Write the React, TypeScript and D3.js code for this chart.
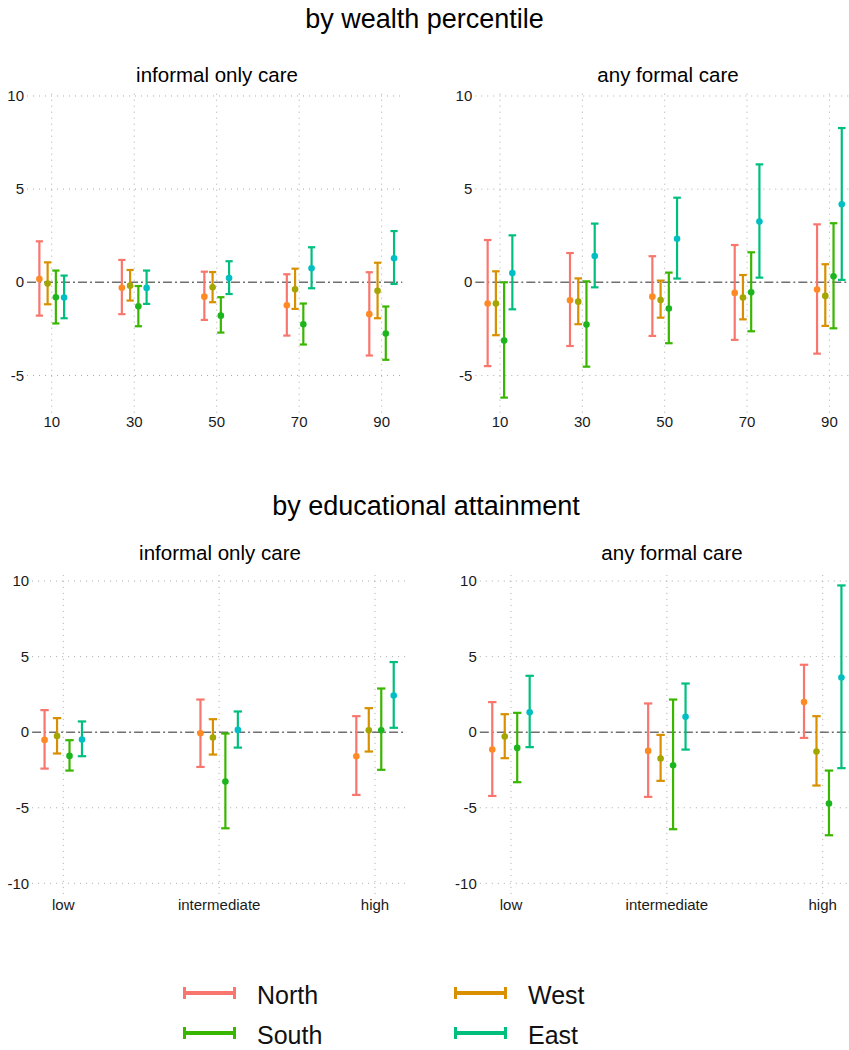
import { useEffect, useRef } from 'react';
import * as d3 from 'd3';

// regions, in dodge order
const regions = ['North', 'West', 'South', 'East'];
const barColors = ['#F8766D', '#D89000', '#39B600', '#00BF7D'];
const pointColors = ['#FF8A24', '#A3A500', '#1DB51D', '#00BFC4'];

const wealthGroups = [10, 30, 50, 70, 90];
const eduGroups = ['low', 'intermediate', 'high'];

// [estimate, lower, upper] per group
const wealthInfNorth = [[0.18, -1.79, 2.2], [-0.29, -1.71, 1.2], [-0.77, -2.02, 0.57], [-1.23, -2.86, 0.43], [-1.71, -3.93, 0.54]];
const wealthInfWest = [[-0.07, -1.18, 1.07], [-0.18, -0.98, 0.66], [-0.27, -1.07, 0.55], [-0.38, -1.43, 0.73], [-0.46, -1.93, 1.05]];
const wealthInfSouth = [[-0.8, -2.21, 0.63], [-1.29, -2.36, -0.2], [-1.79, -2.7, -0.8], [-2.25, -3.34, -1.14], [-2.75, -4.16, -1.3]];
const wealthInfEast = [[-0.82, -1.93, 0.36], [-0.3, -1.16, 0.63], [0.23, -0.63, 1.13], [0.75, -0.32, 1.88], [1.29, -0.09, 2.75]];

const wealthFormNorth = [[-1.14, -4.5, 2.27], [-0.97, -3.42, 1.57], [-0.77, -2.88, 1.4], [-0.57, -3.09, 2.0], [-0.39, -3.83, 3.11]];
const wealthFormWest = [[-1.14, -2.84, 0.59], [-1.04, -2.25, 0.21], [-0.95, -1.9, 0.09], [-0.82, -1.99, 0.39], [-0.73, -2.34, 0.97]];
const wealthFormSouth = [[-3.13, -6.19, 0.0], [-2.27, -4.53, 0.05], [-1.41, -3.27, 0.52], [-0.54, -2.63, 1.61], [0.32, -2.47, 3.17]];
const wealthFormEast = [[0.5, -1.45, 2.52], [1.41, -0.27, 3.15], [2.34, 0.2, 4.54], [3.26, 0.25, 6.33], [4.19, 0.13, 8.28]];

const eduInfNorth = [[-0.51, -2.41, 1.46], [-0.07, -2.3, 2.16], [-1.59, -4.15, 1.06]];
const eduInfWest = [[-0.26, -1.41, 0.93], [-0.35, -1.48, 0.86], [0.13, -1.28, 1.59]];
const eduInfSouth = [[-1.57, -2.54, -0.53], [-3.27, -6.36, -0.09], [0.13, -2.49, 2.89]];
const eduInfEast = [[-0.49, -1.59, 0.71], [0.15, -1.02, 1.37], [2.43, 0.29, 4.64]];

const eduFormNorth = [[-1.15, -4.22, 1.99], [-1.24, -4.28, 1.9], [1.99, -0.38, 4.46]];
const eduFormWest = [[-0.29, -1.72, 1.19], [-1.74, -3.22, -0.18], [-1.28, -3.53, 1.06]];
const eduFormSouth = [[-1.04, -3.31, 1.28], [-2.19, -6.42, 2.16], [-4.72, -6.82, -2.54]];
const eduFormEast = [[1.32, -0.99, 3.73], [1.02, -1.15, 3.22], [3.62, -2.38, 9.71]];

const wealthTicks = [-5, 0, 5, 10];
const eduTicks = [-10, -5, 0, 5, 10];

const font = '"Liberation Sans", Arial, Helvetica, sans-serif';

const App = () => {
  const ref = useRef(null);

  useEffect(() => {
    const svg = d3.select(ref.current);
    svg.selectAll('*').remove();

    const panels = [
      { title: 'informal only care', tx: 217, ty: 82, series: [wealthInfNorth, wealthInfWest, wealthInfSouth, wealthInfEast],
        cats: wealthGroups, xr: [27, 402.3], yr: [412.7, 90.4], yd: [-7, 10.3], ticks: wealthTicks, labY: 427, cap: 3.6 },
      { title: 'any formal care', tx: 668, ty: 82, series: [wealthFormNorth, wealthFormWest, wealthFormSouth, wealthFormEast],
        cats: wealthGroups, xr: [475.3, 850], yr: [412.7, 90.4], yd: [-7, 10.3], ticks: wealthTicks, labY: 427, cap: 3.8 },
      { title: 'informal only care', tx: 220, ty: 560, series: [eduInfNorth, eduInfWest, eduInfSouth, eduInfEast],
        cats: eduGroups, xr: [32.1, 406.2], yr: [893.9, 575], yd: [-10.7, 10.4], ticks: eduTicks, labY: 910, cap: 4.2 },
      { title: 'any formal care', tx: 672, ty: 560, series: [eduFormNorth, eduFormWest, eduFormSouth, eduFormEast],
        cats: eduGroups, xr: [479.8, 853.9], yr: [893.9, 575], yd: [-10.7, 10.4], ticks: eduTicks, labY: 910, cap: 4.2 },
    ];

    // section titles
    svg.append('text').attr('x', 424.5).attr('y', 28).attr('text-anchor', 'middle')
      .attr('font-size', 27).attr('font-family', font).text('by wealth percentile');
    svg.append('text').attr('x', 426).attr('y', 515).attr('text-anchor', 'middle')
      .attr('font-size', 27).attr('font-family', font).text('by educational attainment');

    panels.forEach(p => {
      const g = svg.append('g');
      const numeric = typeof p.cats[0] === 'number';
      const x = numeric
        ? d3.scaleLinear().domain([4, 95]).range(p.xr)
        : d3.scaleLinear().domain([0.8, 3.2]).range(p.xr);
      const catX = (i) => numeric ? (p.cats[i] as number) : i + 1;
      const offsets = numeric ? [-3, -1, 1, 3] : [-0.12, -0.04, 0.04, 0.12];
      const y = d3.scaleLinear().domain(p.yd).range(p.yr);

      g.append('text').attr('x', p.tx).attr('y', p.ty).attr('text-anchor', 'middle')
        .attr('font-size', 20.5).attr('font-family', font).text(p.title);

      // grid
      g.selectAll('.hgrid').data(p.ticks.filter(t => t !== 0)).join('line')
        .attr('x1', p.xr[0]).attr('x2', p.xr[1])
        .attr('y1', d => y(d)).attr('y2', d => y(d))
        .attr('stroke', '#aaa').attr('stroke-width', 1).attr('stroke-dasharray', '1,5');
      g.selectAll('.vgrid').data(p.cats.map((_, i) => catX(i))).join('line')
        .attr('x1', d => x(d)).attr('x2', d => x(d))
        .attr('y1', p.yr[0]).attr('y2', p.yr[1])
        .attr('stroke', '#aaa').attr('stroke-width', 1).attr('stroke-dasharray', '1,5');

      // zero reference line
      g.append('line').attr('x1', p.xr[0]).attr('x2', p.xr[1])
        .attr('y1', y(0)).attr('y2', y(0))
        .attr('stroke', '#707070').attr('stroke-width', 1.4).attr('stroke-dasharray', '9,3,2,3');

      // y tick labels
      g.selectAll('.ylab').data(p.ticks).join('text')
        .attr('x', p.xr[0] - 3).attr('y', d => y(d) + 5.2)
        .attr('text-anchor', 'end').attr('font-size', 15).attr('font-family', font)
        .attr('fill', '#1a1a1a').text(d => d);
      // x tick labels
      g.selectAll('.xlab').data(p.cats).join('text')
        .attr('x', (_, i) => x(catX(i))).attr('y', p.labY)
        .attr('text-anchor', 'middle').attr('font-size', 15).attr('font-family', font)
        .attr('fill', '#1a1a1a').text(d => d);

      // error bars + points
      p.series.forEach((rows, r) => {
        const sg = g.append('g');
        rows.forEach((row, i) => {
          const cx = x(catX(i) + offsets[r]);
          const [est, lo, hi] = row;
          sg.append('line').attr('x1', cx).attr('x2', cx).attr('y1', y(lo)).attr('y2', y(hi))
            .attr('stroke', barColors[r]).attr('stroke-width', 2.2);
          [lo, hi].forEach(v => {
            sg.append('line').attr('x1', cx - p.cap).attr('x2', cx + p.cap)
              .attr('y1', y(v)).attr('y2', y(v))
              .attr('stroke', barColors[r]).attr('stroke-width', 2.2);
          });
          sg.append('circle').attr('cx', cx).attr('cy', y(est)).attr('r', 3.3)
            .attr('fill', pointColors[r]);
        });
      });
    });

    // legend
    const legendPos = [
      { x: 183, y: 993 }, { x: 454, y: 993 }, { x: 183, y: 1033 }, { x: 454, y: 1033 },
    ];
    regions.forEach((name, r) => {
      const { x, y } = legendPos[r];
      const lg = svg.append('g');
      lg.append('line').attr('x1', x).attr('x2', x + 53).attr('y1', y).attr('y2', y)
        .attr('stroke', barColors[r]).attr('stroke-width', 4);
      [x + 1.5, x + 51.5].forEach(cx => {
        lg.append('line').attr('x1', cx).attr('x2', cx).attr('y1', y - 6).attr('y2', y + 6)
          .attr('stroke', barColors[r]).attr('stroke-width', 3);
      });
      lg.append('text').attr('x', x + 74).attr('y', y + 10.5)
        .attr('font-size', 25).attr('font-family', font).attr('fill', '#111').text(name);
    });
  }, []);

  return (
    <svg ref={ref} width={849} height={1050}
      style={{ position: 'absolute', left: 0, top: 0, background: '#fff' }} />
  );
};

export default App;
